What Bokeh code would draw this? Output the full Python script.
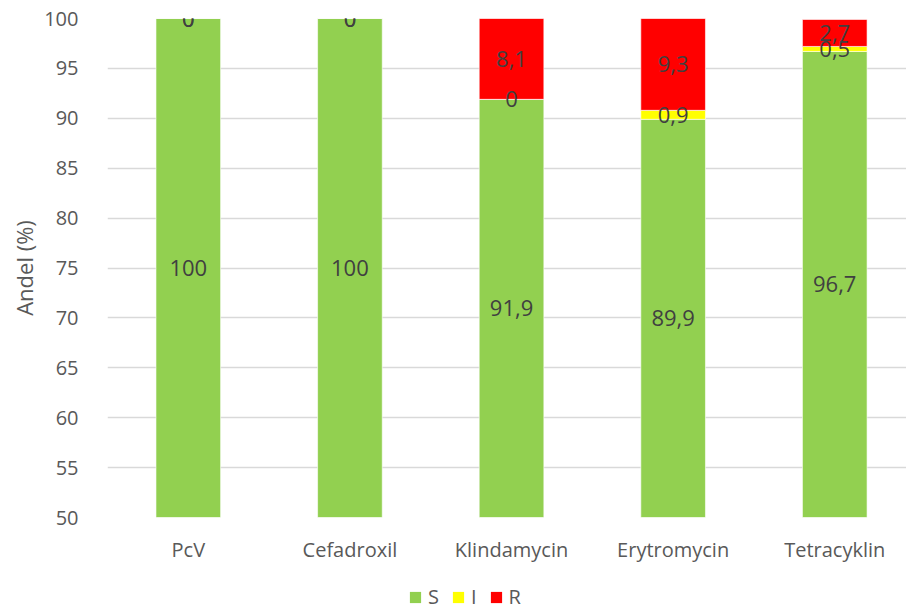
from bokeh.plotting import figure
from bokeh.models import (ColumnDataSource, LabelSet, Legend, LegendItem,
                          FixedTicker, Range1d)
from bokeh.layouts import column
from bokeh.core.properties import value
from bokeh.embed import file_html
from bokeh.resources import INLINE

categories = ["PcV", "Cefadroxil", "Klindamycin", "Erytromycin", "Tetracyklin"]
s_vals = [100, 100, 91.9, 89.9, 96.7]
i_vals = [0, 0, 0, 0.9, 0.5]
r_vals = [0, 0, 8.1, 9.3, 2.7]
series = ["S", "I", "R"]
colors = ["#92D050", "#FFFF00", "#FF0000"]
y_ticks = [50, 55, 60, 65, 70, 75, 80, 85, 90, 95, 100]
y_min, y_max = 50, 100

FONT = "Open Sans"

x_pos = [i + 0.5 for i in range(len(categories))]

p = figure(x_range=Range1d(0, 4.944), y_range=(y_min, y_max), width=906, height=565,
           output_backend="svg", toolbar_location=None,
           min_border_left=107, min_border_top=18, min_border_right=0,
           min_border_bottom=46)

src = ColumnDataSource(dict(x=x_pos, S=s_vals, I=i_vals, R=r_vals))
rs = p.vbar_stack(series, x="x", width=0.4, color=colors, source=src,
                  line_color="white", line_width=0.6)


def fmt(v):
    return f"{v:g}".replace(".", ",")


lx, ly, lt = [], [], []
for xp, s, i, r in zip(x_pos, s_vals, i_vals, r_vals):
    lx += [xp, xp, xp]
    ly += [(y_min + s) / 2, s + i / 2, s + i + r / 2]
    lt += [fmt(s), fmt(i), fmt(r)]
lsrc = ColumnDataSource(dict(x=lx, y=ly, t=lt))
labels = LabelSet(x="x", y="y", text="t", source=lsrc, text_align="center",
                  text_baseline="middle", text_font_size="22px",
                  text_color="#404040", text_font=value(FONT))
p.add_layout(labels)

p.xgrid.visible = False
p.ygrid.grid_line_color = "#D9D9D9"
p.ygrid.grid_line_width = 1.5
p.yaxis.ticker = FixedTicker(ticks=y_ticks)
p.xaxis.ticker = FixedTicker(ticks=x_pos)
p.xaxis.major_label_overrides = {xp: c for xp, c in zip(x_pos, categories)}
p.outline_line_color = None

for ax in (p.xaxis[0], p.yaxis[0]):
    ax.axis_line_color = None
    ax.major_tick_line_color = None
    ax.minor_tick_line_color = None
    ax.major_label_text_font = FONT
    ax.major_label_text_font_size = "20px"
    ax.major_label_text_color = "#595959"

p.yaxis.major_label_standoff = 23
p.xaxis.major_label_standoff = 12
p.yaxis.axis_label = "Andel (%)"
p.yaxis.axis_label_text_font = FONT
p.yaxis.axis_label_text_font_size = "22px"
p.yaxis.axis_label_text_font_style = "normal"
p.yaxis.axis_label_text_color = "#595959"
p.yaxis.axis_label_standoff = 2

# legend strip below the chart (proxy renderers with no drawable data)
lf = figure(width=906, height=46, output_backend="svg", toolbar_location=None,
            x_range=Range1d(0, 1), y_range=Range1d(0, 1),
            min_border=0, x_axis_location=None, y_axis_location=None)
lf.grid.visible = False
lf.outline_line_color = None
nan = float("nan")
dummies = [lf.vbar(x=[nan], bottom=[nan], top=[nan], width=0.1, fill_color=c,
                   line_color=None) for c in colors]
legend = Legend(items=[LegendItem(label=n, renderers=[r]) for n, r in zip(series, dummies)],
                orientation="horizontal", location=(301, 1),
                border_line_color=None, background_fill_alpha=0,
                label_text_font=FONT, label_text_font_size="20px",
                label_text_color="#595959", glyph_width=14, glyph_height=14,
                label_standoff=6, spacing=12, padding=0, margin=0,
                label_height=14, label_width=0)
lf.add_layout(legend, "center")

layout = column(p, lf)
open("out.html", "w").write(file_html(layout, INLINE))
